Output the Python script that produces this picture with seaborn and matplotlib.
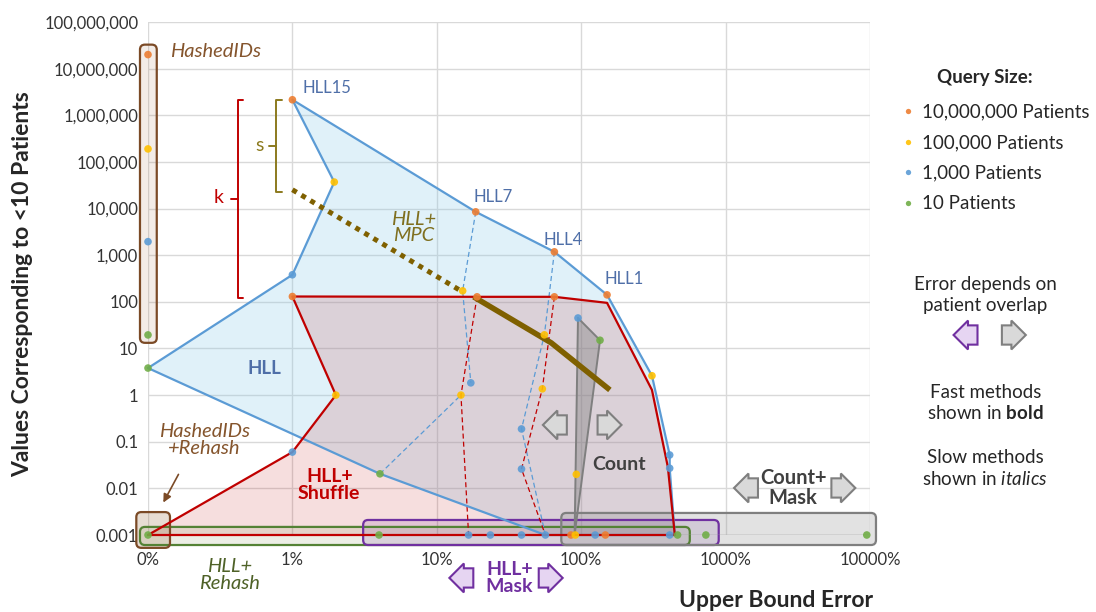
import numpy as np
import pandas as pd
import matplotlib
matplotlib.use("Agg")
import matplotlib.pyplot as plt
import seaborn as sns
from matplotlib.patches import FancyBboxPatch
from matplotlib.transforms import IdentityTransform
from matplotlib.ticker import FixedLocator, FixedFormatter, NullLocator

# ---- axis ticks ----
x_ticks = [0.001, 0.01, 0.1, 1, 10, 100]
x_labels = ["0%", "1%", "10%", "100%", "1000%", "10000%"]
y_ticks = [1e-3, 1e-2, 0.1, 1, 10, 100, 1e3, 1e4, 1e5, 1e6, 1e7, 1e8]
y_labels = ["0.001", "0.01", "0.1", "1", "10", "100", "1,000", "10,000",
            "100,000", "1,000,000", "10,000,000", "100,000,000"]

# ---- regions (upper bound error, value) ----
hll_err = [0.001, 0.01, 0.0195, 0.01, 0.186, 0.652, 1.51, 3.09, 4.1, 4.1, 4.45, 0.565, 0.0404]
hll_val = [3.8, 380, 37000, 2.15e6, 8500, 1180, 141, 2.6, 0.052, 0.027, 0.001, 0.001, 0.0205]

shuffle_err = [0.001, 0.01, 0.02, 0.01, 0.19, 0.652, 1.51, 3.09, 3.98, 4.45]
shuffle_val = [0.001, 0.06, 1.0, 130, 128, 128, 95, 1.29, 0.029, 0.001]

count_err = [0.95, 1.35, 0.9]
count_val = [45, 15, 0.001]

mpc_dot_err = [0.01, 0.15]
mpc_dot_val = [25300, 165]
mpc_err = [0.18, 0.62, 1.58]
mpc_val = [128, 13.2, 1.29]

# ---- thin dashed connectors ----
hll7_err = [0.186, 0.151, 0.172]
hll7_val = [8500, 172, 1.83]
hll7_low_err = [0.0404, 0.147]
hll7_low_val = [0.0205, 1.0]
hll4_err = [0.652, 0.556, 0.386, 0.565]
hll4_val = [1180, 19.6, 0.188, 0.001]
shuf7_err = [0.19, 0.147, 0.166]
shuf7_val = [128, 1.0, 0.001]
shuf4_err = [0.652, 0.538, 0.386, 0.565]
shuf4_val = [128, 1.36, 0.026, 0.001]
mask_err = [0.0398, 0.166]
mask_val = [0.001, 0.001]
count_mask_err = [0.91, 95]
count_mask_val = [0.001, 0.001]

# ---- points by query size ----
size_labels = ["10,000,000 Patients", "100,000 Patients", "1,000 Patients", "10 Patients"]
size_colors = ["#ED7D31", "#FFC000", "#5B9BD5", "#70AD47"]
p10m_err = [0.001, 0.01, 0.186, 0.652, 1.51, 0.01, 0.19, 0.652, 0.85, 1.47]
p10m_val = [2e7, 2.15e6, 8500, 1180, 141, 130, 128, 128, 0.001, 0.001]
p100k_err = [0.001, 0.0195, 0.02, 0.151, 0.147, 0.556, 0.538, 3.09, 0.925, 0.91]
p100k_val = [1.9e5, 37000, 1.0, 172, 1.0, 19.6, 1.36, 2.6, 0.02, 0.001]
p1k_err = [0.001, 0.01, 0.01, 0.172, 0.386, 0.386, 0.95, 4.1, 4.1,
           0.166, 0.235, 0.386, 0.565, 1.25, 4.1]
p1k_val = [1950, 380, 0.06, 1.83, 0.188, 0.026, 45, 0.052, 0.027,
           0.001, 0.001, 0.001, 0.001, 0.001, 0.001]
p10_err = [0.001, 0.001, 0.0404, 1.35, 0.001, 0.0398, 4.65, 7.3, 95]
p10_val = [19.5, 3.8, 0.0205, 15, 0.001, 0.001, 0.001, 0.001, 0.001]

# ---- method boxes: x0, x1, y0, y1 ----
box_hashed = [0.00088, 0.00115, 13.2, 3.27e7]
box_hashed_rehash = [0.00083, 0.00142, 0.00053, 0.0031]
box_hll_rehash = [0.00088, 5.65, 0.00061, 0.00149]
box_hll_mask = [0.0309, 8.96, 0.00061, 0.0021]
box_count_mask = [0.728, 110, 0.00061, 0.00297]

# ---- parameter brackets: x, y_top, y_bottom ----
s_bracket = [0.00776, 2.15e6, 2.3e4]
k_bracket = [0.00418, 2.15e6, 122]

sns.set_theme(style="white")
plt.rcParams["font.family"] = ["Lato", "DejaVu Sans"]
plt.rcParams["mathtext.fontset"] = "custom"
plt.rcParams["mathtext.rm"] = "Lato"
plt.rcParams["mathtext.bf"] = "Lato:bold"
plt.rcParams["mathtext.it"] = "Lato:italic"

fig = plt.figure(figsize=(10.96, 6.12), dpi=100)
ax = fig.add_axes([148 / 1096, 77 / 612, 722 / 1096, 513 / 612])

ax.set_xscale("log")
ax.set_yscale("log")
ax.set_xlim(0.001, 100)
ax.set_ylim(0.001, 1e8)

# regions
ax.fill(hll_err, hll_val, color="#87cbeb", alpha=0.25, lw=0, zorder=1)
ax.fill(shuffle_err, shuffle_val, color="#c00000", alpha=0.13, lw=0, zorder=1.1)
ax.fill(count_err, count_val, color="#7f7f7f", alpha=0.4, lw=0, zorder=1.2)

ax.plot(hll_err + hll_err[:1], hll_val + hll_val[:1], color="#5B9BD5", lw=1.6, zorder=4, clip_on=False)
ax.plot(shuffle_err + shuffle_err[:1], shuffle_val + shuffle_val[:1], color="#C00000", lw=1.6, zorder=4.1, clip_on=False)
ax.plot(count_err + count_err[:1], count_val + count_val[:1], color="#7f7f7f", lw=1.4, zorder=4)
ax.plot(count_mask_err, count_mask_val, color="#a6a6a6", lw=1, zorder=3.5)

for xs, ys in [(hll7_err, hll7_val), (hll7_low_err, hll7_low_val), (hll4_err, hll4_val)]:
    ax.plot(xs, ys, color="#5B9BD5", lw=0.9, ls=(0, (4, 2.5)), zorder=3.6)
for xs, ys in [(shuf7_err, shuf7_val), (shuf4_err, shuf4_val), (mask_err, mask_val)]:
    ax.plot(xs, ys, color="#C00000", lw=0.9, ls=(0, (4, 2.5)), zorder=3.7)

ax.plot(mpc_dot_err, mpc_dot_val, color="#7F6000", lw=3.6, ls=(0, (1, 1.1)), zorder=4.5)
ax.plot(mpc_err, mpc_val, color="#7F6000", lw=4, solid_capstyle="butt", zorder=4.5)

# brackets for s and k
for (bx, top, bot), col in [(s_bracket, "#8c7a1e"), (k_bracket, "#C00000")]:
    mid = np.sqrt(top * bot)
    ax.plot([bx * 1.09, bx, bx, bx * 1.09], [top, top, bot, bot], color=col, lw=1.4)
    ax.plot([bx / 1.12, bx], [mid, mid], color=col, lw=1.4)
ax.text(0.0059, 2.2e5, "s", color="#8c7a1e", fontsize=14, ha="center", va="center")
ax.text(0.0031, 1.7e4, "k", color="#C00000", fontsize=14, ha="center", va="center")


def rounded_box(ext, ec, fc, alpha):
    x0, x1, y0, y1 = ext
    (px0, py0), (px1, py1) = ax.transData.transform([(x0, y0), (x1, y1)])
    face = FancyBboxPatch((px0, py0), px1 - px0, py1 - py0,
                          boxstyle="round,pad=0,rounding_size=5",
                          transform=IdentityTransform(), fc=fc, alpha=alpha,
                          ec="none", zorder=3, clip_on=False)
    edge = FancyBboxPatch((px0, py0), px1 - px0, py1 - py0,
                          boxstyle="round,pad=0,rounding_size=5",
                          transform=IdentityTransform(), fc="none",
                          ec=ec, lw=1.6, zorder=3.2, clip_on=False)
    ax.add_patch(face)
    ax.add_patch(edge)


rounded_box(box_hashed, "#7b4a26", "#b08060", 0.15)
rounded_box(box_hll_rehash, "#548235", "#8a9a60", 0.16)
rounded_box(box_hll_mask, "#7030A0", "#7030A0", 0.15)
rounded_box(box_count_mask, "#7f7f7f", "#8f8f8f", 0.25)
rounded_box(box_hashed_rehash, "#7b4a26", "#a07850", 0.25)

# points
frames = []
for lab, xs, ys in zip(size_labels, [p10m_err, p100k_err, p1k_err, p10_err],
                       [p10m_val, p100k_val, p1k_val, p10_val]):
    frames.append(pd.DataFrame({"err": xs, "val": ys, "size": lab}))
pts = pd.concat(frames, ignore_index=True)
sns.scatterplot(data=pts, x="err", y="val", hue="size", hue_order=size_labels,
                palette=size_colors, s=30, edgecolor="none", alpha=0.9,
                zorder=6, clip_on=False, ax=ax)

# axes styling
ax.xaxis.set_major_locator(FixedLocator(x_ticks))
ax.xaxis.set_major_formatter(FixedFormatter(x_labels))
ax.xaxis.set_minor_locator(NullLocator())
ax.yaxis.set_major_locator(FixedLocator(y_ticks))
ax.yaxis.set_major_formatter(FixedFormatter(y_labels))
ax.yaxis.set_minor_locator(NullLocator())
ax.grid(True, color="#d9d9d9", lw=1)
ax.set_axisbelow(True)
for sp in ax.spines.values():
    sp.set_visible(False)
ax.tick_params(axis="both", length=0, labelsize=12, labelcolor="#333333")
ax.tick_params(axis="x", pad=12)
ax.tick_params(axis="y", pad=7)
ax.set_xlabel("")
ax.set_ylabel("")

fig.text(0.708, 0.018, "Upper Bound Error", fontsize=16.5, fontweight="bold", ha="center", va="center")
fig.text(0.021, 0.535, "Values Corresponding to <10 Patients", fontsize=16.5, fontweight="bold",
         rotation=90, ha="center", va="center")

# method labels
blue_txt = "#4f6fa8"
ax.text(0.00142, 2.3e7, "HashedIDs", color="#85552d", fontsize=14.5, style="italic", ha="left", va="center")
ax.text(0.0117, 3.9e6, "HLL15", color=blue_txt, fontsize=12, ha="left", va="center")
ax.text(0.18, 1.78e4, "HLL7", color=blue_txt, fontsize=12, ha="left", va="center")
ax.text(0.55, 2140, "HLL4", color=blue_txt, fontsize=12, ha="left", va="center")
ax.text(1.44, 311, "HLL1", color=blue_txt, fontsize=12, ha="left", va="center")
ax.text(0.069, 3870, "HLL+\nMPC", color="#7f6f1f", fontsize=14.5, style="italic", ha="center",
        va="center", linespacing=0.95)
ax.text(0.0064, 3.8, "HLL", color=blue_txt, fontsize=13.5, fontweight="bold", ha="center", va="center")
ax.text(0.00247, 0.109, "HashedIDs\n+Rehash", color="#85552d", fontsize=14.5, style="italic",
        ha="center", va="center", linespacing=1.0)
ax.annotate("", xy=(0.00125, 0.0044), xytext=(0.00166, 0.0225),
            arrowprops=dict(arrowstyle="-|>", color="#7b4a26", lw=1.2))
ax.text(0.018, 0.0118, "HLL+\nShuffle", color="#C00000", fontsize=14, fontweight="bold",
        ha="center", va="center", linespacing=1.0)
ax.text(1.83, 0.0318, "Count", color="#404040", fontsize=14, fontweight="bold", ha="center", va="center")
ax.text(29.4, 0.0102, "Count+\nMask", color="#404040", fontsize=14.5, fontweight="bold",
        ha="center", va="center", linespacing=0.95)
ax.text(0.00368, 1.39e-4, "HLL+\nRehash", color="#4f6228", fontsize=14.5, style="italic",
        ha="center", va="center", linespacing=1.0)
ax.text(0.318, 1.2e-4, "HLL+\nMask", color="#7030A0", fontsize=14, fontweight="bold",
        ha="center", va="center", linespacing=0.95)

gray_arrow = dict(fc="#d9d9d9", ec="#7f7f7f", lw=1.5)
purple_arrow = dict(fc="#e6d5f2", ec="#7030A0", lw=1.5)


def block_arrow(x, y, direction, style, transform):
    ax.text(x, y, "   ", fontsize=8.5, ha="center", va="center", transform=transform,
            bbox=dict(boxstyle=f"{direction}arrow,pad=0.35", **style), zorder=7)


block_arrow(0.693, 0.229, "l", gray_arrow, ax.transData)
block_arrow(1.49, 0.229, "r", gray_arrow, ax.transData)
block_arrow(14.6, 0.0102, "l", gray_arrow, ax.transData)
block_arrow(62, 0.0102, "r", gray_arrow, ax.transData)
block_arrow(0.156, 1.2e-4, "l", purple_arrow, ax.transData)
block_arrow(0.583, 1.2e-4, "r", purple_arrow, ax.transData)

# right side notes
sns.move_legend(ax, "upper left", bbox_to_anchor=(0.822, 0.831), bbox_transform=fig.transFigure,
                frameon=False, title=None, fontsize=13.5,
                handlelength=0.8, handletextpad=0.3, labelspacing=0.73, markerscale=0.7,
                borderpad=0, borderaxespad=0)
fig.text(0.899, 1 - 78 / 612, "Query Size:", fontsize=13.5, fontweight="bold",
         ha="center", va="center")

fig.text(0.899, 1 - 295 / 612, "Error depends on\npatient overlap", fontsize=13.5, ha="center",
         va="center", color="#262626", linespacing=1.3)
block_arrow(0.884, 0.4526, "l", purple_arrow, fig.transFigure)
block_arrow(0.922, 0.4526, "r", gray_arrow, fig.transFigure)
fig.text(0.899, 1 - 403 / 612, "Fast methods\nshown in $\\mathbf{bold}$", fontsize=13.5, ha="center",
         va="center", color="#262626", linespacing=1.25)
fig.text(0.899, 1 - 468.5 / 612, "Slow methods\nshown in $\\mathit{italics}$", fontsize=13.5, ha="center",
         va="center", color="#262626", linespacing=1.25)

fig.savefig("out.png", dpi=100)
